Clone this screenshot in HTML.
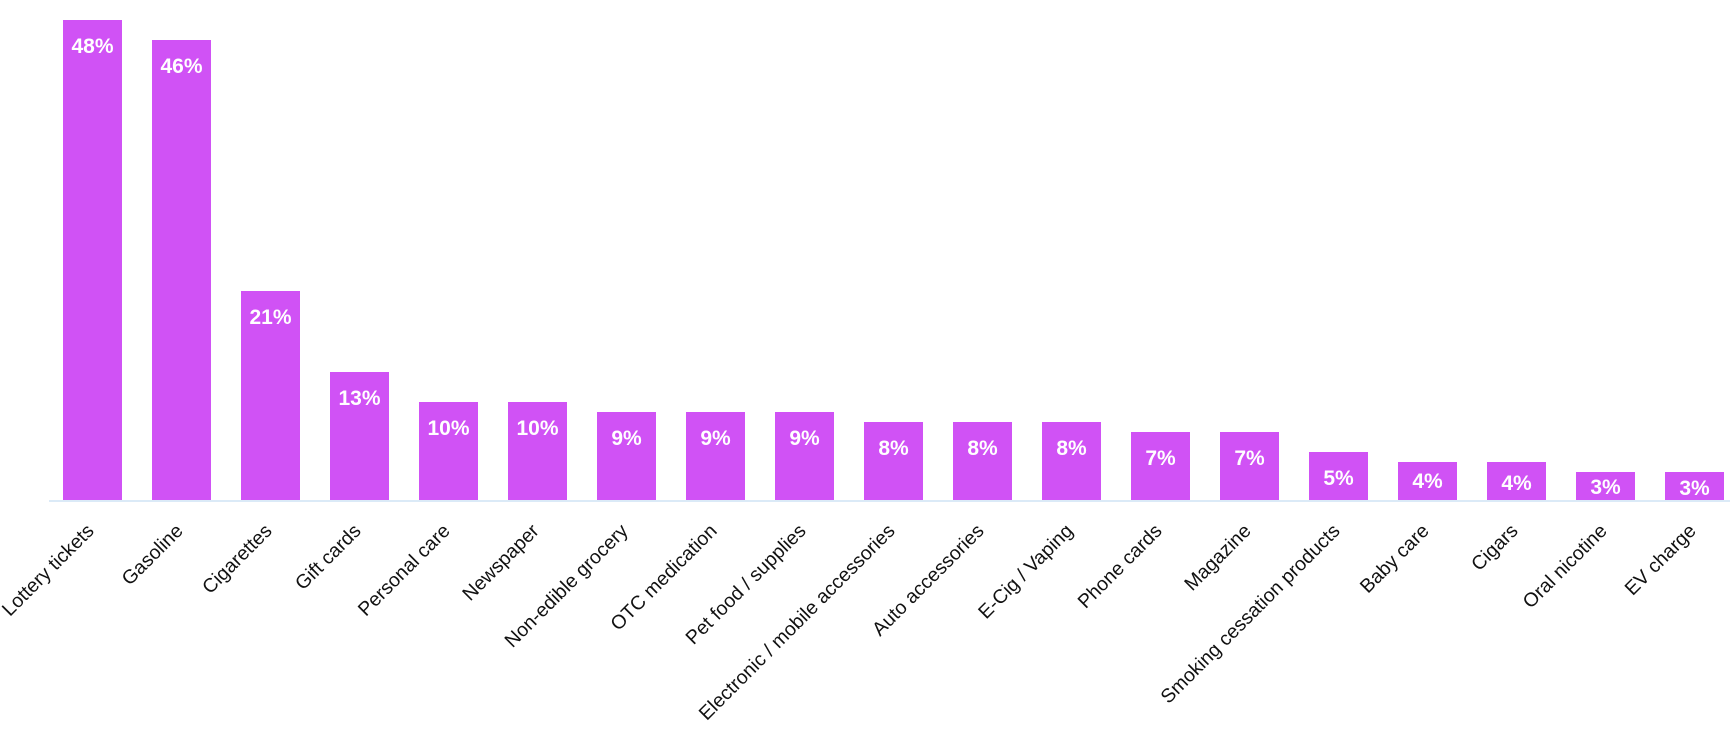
<!DOCTYPE html>
<html><head><meta charset="utf-8"><style>
html,body{margin:0;padding:0;background:#fff;}
svg{display:block;}
.v{font-family:"Liberation Sans",sans-serif;font-weight:bold;font-size:21px;fill:#fff;text-anchor:middle;}
.l{font-family:"Liberation Sans",sans-serif;font-size:19.5px;fill:#111;text-anchor:end;}
</style></head><body>
<svg width="1736" height="732" viewBox="0 0 1736 732" xmlns="http://www.w3.org/2000/svg">
<line x1="49" y1="501" x2="1730" y2="501" stroke="#dbeaf7" stroke-width="2"/>
<g fill="#d052f5">
<rect x="63" y="20" width="59" height="480"/>
<rect x="152" y="40" width="59" height="460"/>
<rect x="241" y="291" width="59" height="209"/>
<rect x="330" y="372" width="59" height="128"/>
<rect x="419" y="402" width="59" height="98"/>
<rect x="508" y="402" width="59" height="98"/>
<rect x="597" y="412" width="59" height="88"/>
<rect x="686" y="412" width="59" height="88"/>
<rect x="775" y="412" width="59" height="88"/>
<rect x="864" y="422" width="59" height="78"/>
<rect x="953" y="422" width="59" height="78"/>
<rect x="1042" y="422" width="59" height="78"/>
<rect x="1131" y="432" width="59" height="68"/>
<rect x="1220" y="432" width="59" height="68"/>
<rect x="1309" y="452" width="59" height="48"/>
<rect x="1398" y="462" width="59" height="38"/>
<rect x="1487" y="462" width="59" height="38"/>
<rect x="1576" y="472" width="59" height="28"/>
<rect x="1665" y="472" width="59" height="28"/>
</g>
<g class="v">
<text x="92.5" y="53">48%</text>
<text x="181.5" y="73">46%</text>
<text x="270.5" y="324">21%</text>
<text x="359.5" y="405">13%</text>
<text x="448.5" y="435">10%</text>
<text x="537.5" y="435">10%</text>
<text x="626.5" y="445">9%</text>
<text x="715.5" y="445">9%</text>
<text x="804.5" y="445">9%</text>
<text x="893.5" y="455">8%</text>
<text x="982.5" y="455">8%</text>
<text x="1071.5" y="455">8%</text>
<text x="1160.5" y="465">7%</text>
<text x="1249.5" y="465">7%</text>
<text x="1338.5" y="485">5%</text>
<text x="1427.5" y="488">4%</text>
<text x="1516.5" y="490">4%</text>
<text x="1605.5" y="494">3%</text>
<text x="1694.5" y="495">3%</text>
</g>
<g class="l">
<text transform="translate(95,532) rotate(-45)">Lottery tickets</text>
<text transform="translate(184,532) rotate(-45)">Gasoline</text>
<text transform="translate(273,532) rotate(-45)">Cigarettes</text>
<text transform="translate(362,532) rotate(-45)">Gift cards</text>
<text transform="translate(451,532) rotate(-45)">Personal care</text>
<text transform="translate(540,532) rotate(-45)">Newspaper</text>
<text transform="translate(629,532) rotate(-45)">Non-edible grocery</text>
<text transform="translate(718,532) rotate(-45)">OTC medication</text>
<text transform="translate(807,532) rotate(-45)">Pet food / supplies</text>
<text transform="translate(896,532) rotate(-45)">Electronic / mobile accessories</text>
<text transform="translate(985,532) rotate(-45)">Auto accessories</text>
<text transform="translate(1074,532) rotate(-45)">E-Cig / Vaping</text>
<text transform="translate(1163,532) rotate(-45)">Phone cards</text>
<text transform="translate(1252,532) rotate(-45)">Magazine</text>
<text transform="translate(1341,532) rotate(-45)">Smoking cessation products</text>
<text transform="translate(1430,532) rotate(-45)">Baby care</text>
<text transform="translate(1519,532) rotate(-45)">Cigars</text>
<text transform="translate(1608,532) rotate(-45)">Oral nicotine</text>
<text transform="translate(1697,532) rotate(-45)">EV charge</text>
</g>
</svg>
</body></html>
